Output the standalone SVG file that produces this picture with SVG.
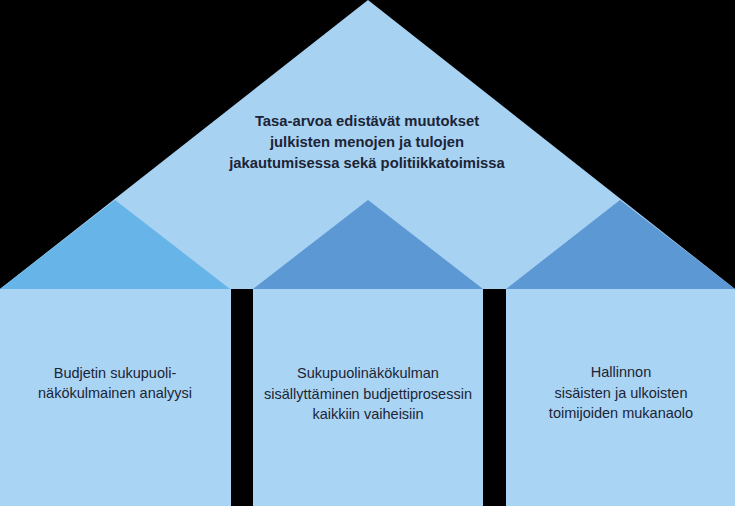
<svg xmlns="http://www.w3.org/2000/svg" width="735" height="506" viewBox="0 0 735 506">
<style>
.roof{fill:#a7d2f2}
.tl{fill:#66b4e8}
.td{fill:#5b98d4}
.pil{fill:#a9d4f3}
text{font-family:"Liberation Sans",Arial,sans-serif;font-size:14.5px;fill:#1c2436;text-anchor:middle}
.b{font-weight:bold;font-size:14.8px}
</style>
<rect width="735" height="506" fill="#000"/>
<g id="roof">
<polygon class="roof" points="0,289 368,0 735,289"/>
<polygon class="tl" points="0,289 115,200 230,289"/>
<polygon class="td" points="253,289 368,200 483,289"/>
<polygon class="td" points="506,289 620,200 735,289"/>
<text class="b" x="367" y="126">Tasa-arvoa edistävät muutokset</text>
<text class="b" x="367" y="147">julkisten menojen ja tulojen</text>
<text class="b" x="367" y="168">jakautumisessa sekä politiikkatoimissa</text>
</g>
<g id="pillar1">
<rect class="pil" x="0" y="289" width="231" height="217"/>
<text x="115" y="378">Budjetin sukupuoli-</text>
<text x="115" y="398">näkökulmainen analyysi</text>
</g>
<g id="pillar2">
<rect class="pil" x="253" y="289" width="230" height="217"/>
<text x="368" y="378">Sukupuolinäkökulman</text>
<text x="368" y="399">sisällyttäminen budjettiprosessin</text>
<text x="368" y="419">kaikkiin vaiheisiin</text>
</g>
<g id="pillar3">
<rect class="pil" x="506" y="289" width="229" height="217"/>
<text x="621" y="377">Hallinnon</text>
<text x="621" y="398">sisäisten ja ulkoisten</text>
<text x="621" y="418">toimijoiden mukanaolo</text>
</g>
<g id="connectors"></g>
</svg>
